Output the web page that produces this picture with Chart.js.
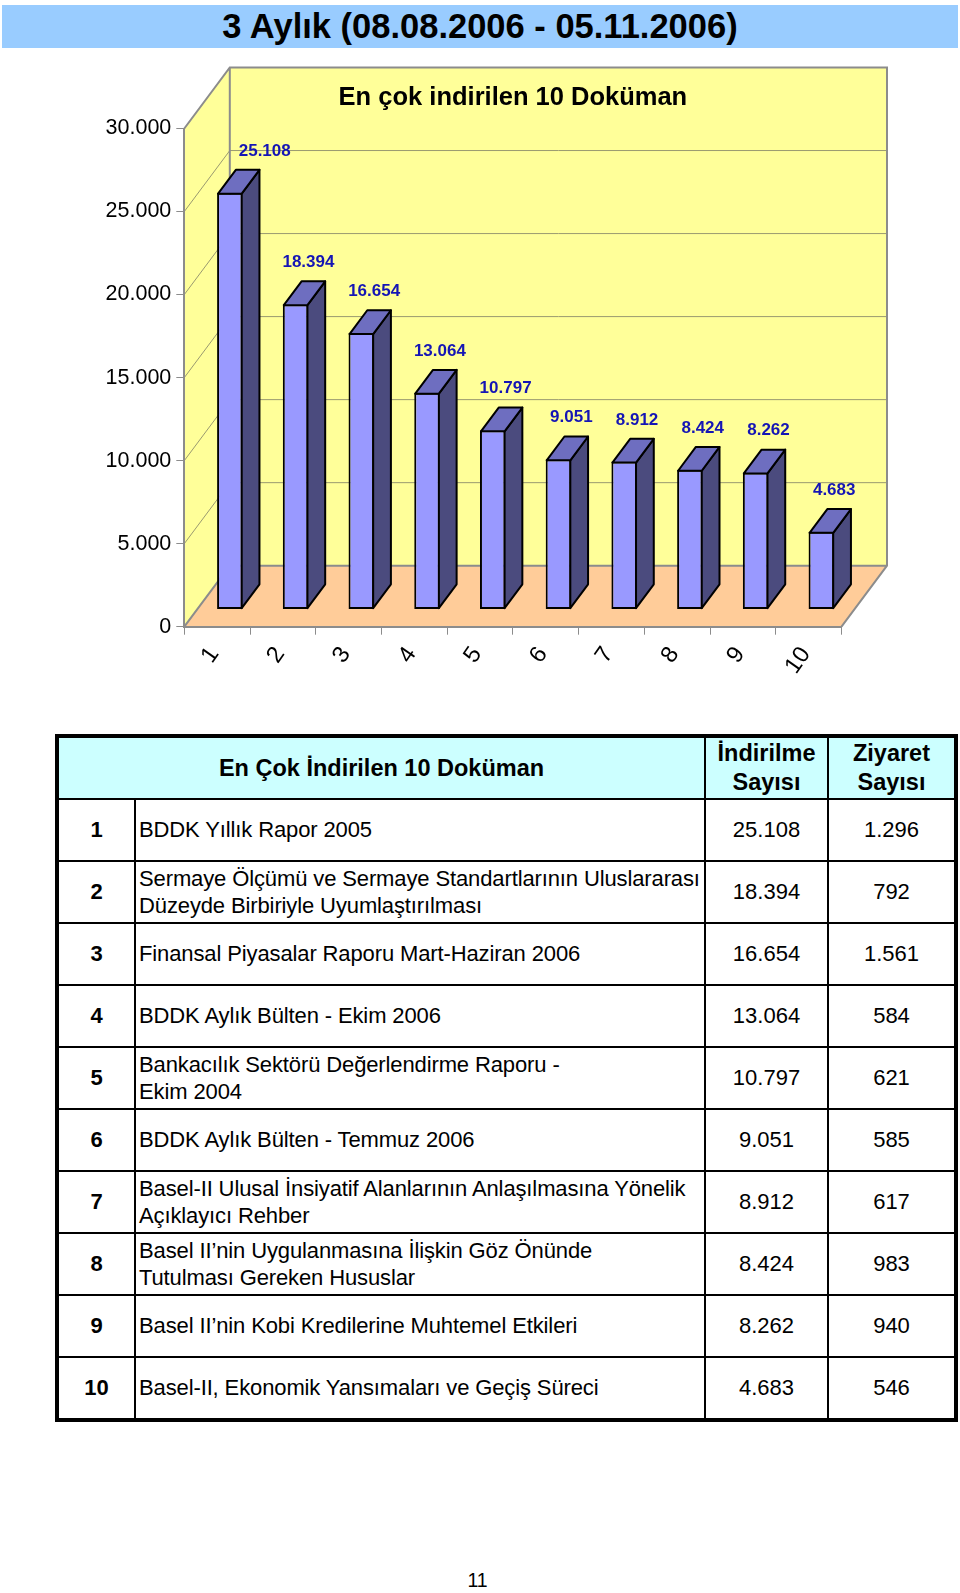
<!DOCTYPE html>
<html>
<head>
<meta charset="utf-8">
<script src="https://cdn.jsdelivr.net/npm/chart.js@4/dist/chart.umd.min.js"></script>
<style>
  body { margin: 0; background: #fff; width: 960px; height: 1593px; position: relative; font-family: 'Liberation Sans', Arial, sans-serif; }
  #band { position: absolute; left: 2px; top: 5px; width: 956px; height: 43px; background: #99CCFF;
          font-weight: bold; font-size: 34.5px; line-height: 43px; text-align: center; color: #000; }
  #c { position: absolute; left: 0; top: 50px; }
  #docs { position: absolute; left: 55px; top: 734px; width: 903px; border-collapse: collapse; table-layout: fixed;
          border: 4px solid #000; font-size: 22px; color: #000; }
  #docs td, #docs th { border: 2px solid #000; padding: 0 3px; }
  #docs th { background: #CCFFFF; font-size: 23.5px; font-weight: bold; height: 60px; line-height: 29px; text-align: center; }
  #docs td { height: 60px; line-height: 27.5px; }
  #docs td.num { text-align: center; font-weight: bold; }
  #docs td.val { text-align: center; }
  #docs td.name { white-space: pre; overflow: visible; letter-spacing: -0.12px; }
  #page { position: absolute; left: 0; width: 955px; top: 1569px; text-align: center; font-size: 19.5px; }
</style>
</head>
<body>
<div id="band">3 Aylık (08.08.2006 - 05.11.2006)</div>
<canvas id="c" width="960" height="680"></canvas>
<table id="docs"></table>
<div id="page">11</div>

<script>
// ----------- DATA -----------
const ranks = ['1', '2', '3', '4', '5', '6', '7', '8', '9', '10'];
const downloads = [25108, 18394, 16654, 13064, 10797, 9051, 8912, 8424, 8262, 4683];
const visits = [1296, 792, 1561, 584, 621, 585, 617, 983, 940, 546];
const docTitles = [
  'BDDK Yıllık Rapor 2005',
  'Sermaye Ölçümü ve Sermaye Standartlarının Uluslararası\nDüzeyde Birbiriyle Uyumlaştırılması',
  'Finansal Piyasalar Raporu Mart-Haziran 2006',
  'BDDK Aylık Bülten - Ekim 2006',
  'Bankacılık Sektörü Değerlendirme Raporu -\nEkim 2004',
  'BDDK Aylık Bülten - Temmuz 2006',
  'Basel-II Ulusal İnsiyatif Alanlarının Anlaşılmasına Yönelik\nAçıklayıcı Rehber',
  'Basel II’nin Uygulanmasına İlişkin Göz Önünde\nTutulması Gereken Hususlar',
  'Basel II’nin Kobi Kredilerine Muhtemel Etkileri',
  'Basel-II, Ekonomik Yansımaları ve Geçiş Süreci'
];
const tableHeaders = ['En Çok İndirilen 10 Doküman', 'İndirilme\nSayısı', 'Ziyaret\nSayısı'];

// thousands with a dot, like 25.108
function fmt(v) {
  return String(v).replace(/\B(?=(\d{3})+(?!\d))/g, '.');
}

// ----------- TABLE -----------
const table = document.getElementById('docs');
table.innerHTML =
  '<colgroup><col style="width:78px"><col style="width:570px"><col style="width:123px"><col style="width:128px"></colgroup>';
const head = table.insertRow();
tableHeaders.forEach((h, i) => {
  const th = document.createElement('th');
  if (i === 0) th.colSpan = 2;
  th.innerHTML = h.replace('\n', '<br>');
  head.appendChild(th);
});
ranks.forEach((r, i) => {
  const row = table.insertRow();
  const c0 = row.insertCell(); c0.className = 'num'; c0.textContent = r;
  const c1 = row.insertCell(); c1.className = 'name'; c1.textContent = docTitles[i];
  const c2 = row.insertCell(); c2.className = 'val'; c2.textContent = fmt(downloads[i]);
  const c3 = row.insertCell(); c3.className = 'val'; c3.textContent = fmt(visits[i]);
});

// ----------- 3D LOOK -----------
const DEPTH = { dx: 45.5, dy: -61 };  // front axis -> back wall
const FRONT = 0.28;                    // where the bar faces sit
const THICK = 0.39;                    // bar depth

function poly(ctx, pts) {
  ctx.beginPath();
  ctx.moveTo(pts[0][0], pts[0][1]);
  for (let i = 1; i < pts.length; i++) ctx.lineTo(pts[i][0], pts[i][1]);
  ctx.closePath();
}

const box3d = {
  id: 'box3d',
  beforeDraw(chart) {
    const { ctx, chartArea: a } = chart;
    const ys = chart.scales.y;
    const { dx, dy } = DEPTH;
    ctx.save();
    // floor
    poly(ctx, [[a.left, a.bottom], [a.right, a.bottom], [a.right + dx, a.bottom + dy], [a.left + dx, a.bottom + dy]]);
    ctx.fillStyle = '#FFCC99';
    ctx.fill();
    // left wall + back wall
    ctx.fillStyle = '#FFFF99';
    poly(ctx, [[a.left, a.top], [a.left + dx, a.top + dy], [a.left + dx, a.bottom + dy], [a.left, a.bottom]]);
    ctx.fill();
    ctx.fillRect(a.left + dx, a.top + dy, a.right - a.left, a.bottom - a.top);

    // gridlines on the walls
    ctx.strokeStyle = '#9a9a70';
    ctx.lineWidth = 1;
    ys.ticks.forEach(t => {
      if (t.value <= ys.min || t.value >= ys.max) return;
      const py = ys.getPixelForValue(t.value);
      ctx.beginPath();
      ctx.moveTo(a.left, py);
      ctx.lineTo(a.left + dx, py + dy);
      ctx.lineTo(a.right + dx, py + dy);
      ctx.stroke();
    });

    // wall edges
    ctx.strokeStyle = '#8c8c8c';
    ctx.lineWidth = 2;
    ctx.beginPath();
    ctx.moveTo(a.left, a.top);
    ctx.lineTo(a.left + dx, a.top + dy);
    ctx.lineTo(a.right + dx, a.top + dy);
    ctx.lineTo(a.right + dx, a.bottom + dy);
    ctx.lineTo(a.right, a.bottom);
    ctx.moveTo(a.left + dx, a.top + dy);
    ctx.lineTo(a.left + dx, a.bottom + dy);
    ctx.lineTo(a.right + dx, a.bottom + dy);
    ctx.moveTo(a.left, a.bottom);
    ctx.lineTo(a.left + dx, a.bottom + dy);
    ctx.stroke();
    ctx.restore();
  },
  beforeDatasetsDraw(chart) {
    chart.ctx.save();
    chart.ctx.translate(DEPTH.dx * FRONT, DEPTH.dy * FRONT);
  },
  afterDatasetsDraw(chart) {
    const ctx = chart.ctx;
    const sdx = DEPTH.dx * THICK, sdy = DEPTH.dy * THICK;
    const meta = chart.getDatasetMeta(0);
    ctx.lineWidth = 2;
    ctx.lineJoin = 'round';
    ctx.strokeStyle = '#000';
    meta.data.forEach(bar => {
      const { x, y, base, width } = bar.getProps(['x', 'y', 'base', 'width'], true);
      const l = x - width / 2 + 1, r = x + width / 2 - 1;
      // side
      poly(ctx, [[r, y + 1], [r + sdx, y + 1 + sdy], [r + sdx, base - 1 + sdy], [r, base - 1]]);
      ctx.fillStyle = '#4B4B7E';
      ctx.fill();
      ctx.stroke();
      // top
      poly(ctx, [[l, y + 1], [l + sdx, y + 1 + sdy], [r + sdx, y + 1 + sdy], [r, y + 1]]);
      ctx.fillStyle = '#6E6EC0';
      ctx.fill();
      ctx.stroke();
    });
    ctx.restore();

    // value labels, sitting above the back edge of each bar top
    ctx.save();
    ctx.font = "bold 17px 'Liberation Sans', Arial, sans-serif";
    ctx.fillStyle = '#1515B5';
    ctx.textAlign = 'center';
    ctx.textBaseline = 'middle';
    meta.data.forEach((bar, i) => {
      const { x, y, width } = bar.getProps(['x', 'y', 'width'], true);
      // the tallest bar's label was pushed right of its bar in the original
      const shift = i === 0 ? 22 : 0;
      const lx = x + width / 2 + DEPTH.dx * FRONT + shift;
      const ly = y + DEPTH.dy * (FRONT + THICK) - 18;
      ctx.fillText(fmt(downloads[i]), lx, ly);
    });
    ctx.restore();
  }
};

// ----------- CHART -----------
Chart.defaults.font.family = "'Liberation Sans', Arial, sans-serif";
Chart.defaults.color = '#000';

const ctx = document.getElementById('c').getContext('2d');
new Chart(ctx, {
  type: 'bar',
  data: {
    labels: ranks,
    datasets: [{
      data: downloads,
      backgroundColor: '#9999FF',
      borderColor: '#000',
      borderWidth: 2,
      borderSkipped: false,
      barPercentage: 0.39,
      categoryPercentage: 1,
      clip: false
    }]
  },
  options: {
    responsive: false,
    animation: false,
    layout: { padding: { left: 0, right: 118.5, top: 0, bottom: 0 } },
    plugins: {
      legend: { display: false },
      tooltip: { enabled: false },
      title: {
        display: true,
        fullSize: false,
        text: 'En çok indirilen 10 Doküman',
        color: '#000',
        font: { size: 25.5, weight: 'bold' },
        padding: { top: 32.5, bottom: 15.4 }
      }
    },
    scales: {
      x: {
        grid: { offset: true, drawOnChartArea: false, tickLength: 8, color: '#8c8c8c' },
        border: { color: '#8c8c8c', width: 2 },
        ticks: { minRotation: 55, maxRotation: 55, padding: 7, labelOffset: -3, font: { size: 23.5 } },
        afterFit: s => { s.height = 103.3; }
      },
      y: {
        min: 0,
        max: 30000,
        grid: { drawOnChartArea: false, tickLength: 8, color: '#8c8c8c' },
        border: { color: '#8c8c8c', width: 2 },
        ticks: { stepSize: 5000, padding: 5, font: { size: 21.5 }, callback: v => fmt(v) },
        afterFit: s => { s.width = 184.3; }
      }
    }
  },
  plugins: [box3d]
});
</script>
</body>
</html>
